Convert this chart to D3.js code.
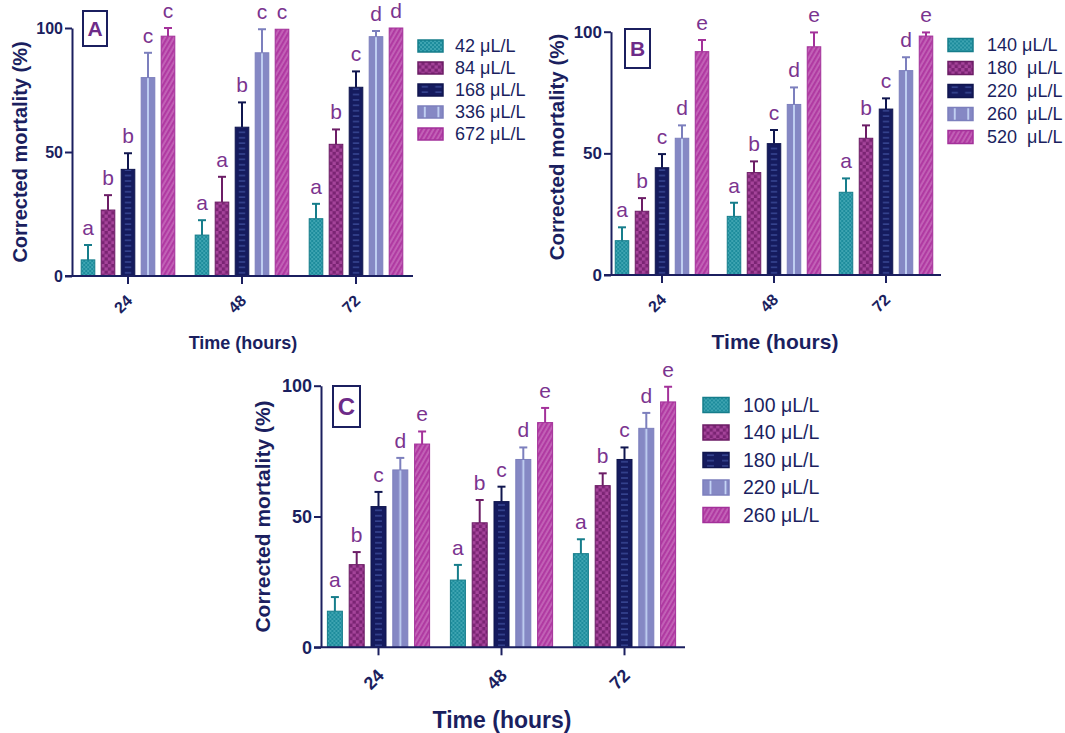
<!DOCTYPE html>
<html>
<head>
<meta charset="utf-8">
<script src="https://cdn.jsdelivr.net/npm/d3@7"></script>
<style>
  body { margin: 0; background: #fff; }
  svg { font-family: "Liberation Sans", Arial, sans-serif; }
</style>
</head>
<body>
<svg width="1065" height="733"></svg>
<script>
// ---- data ----
const times = ["24", "48", "72"];

const concA = ["42 μL/L", "84 μL/L", "168 μL/L", "336 μL/L", "672 μL/L"];
const concB = ["140 μL/L", "180  μL/L", "220  μL/L", "260  μL/L", "520  μL/L"];
const concC = ["100 μL/L", "140 μL/L", "180 μL/L", "220 μL/L", "260 μL/L"];

// one row per concentration, one value per time (24, 48, 72 h)
const meanA = [[6.5, 16.5, 23.1], [26.6, 29.8, 53.1], [43, 60, 76.1], [80, 90, 96.5], [96.7, 99.5, 100]];
const sdA   = [[6, 6, 6], [6, 10.2, 6], [6.5, 10, 6.4], [10, 9.5, 2.3], [3.3, 0, 0]];
const letA  = [["a", "a", "a"], ["b", "a", "b"], ["b", "b", "c"], ["c", "c", "d"], ["c", "c", "d"]];

const meanB = [[14.1, 24.1, 34], [26.2, 42.1, 56.2], [44.1, 54, 68.2], [56.2, 70.1, 84], [91.8, 93.8, 98.2]];
const sdB   = [[5.5, 5.6, 5.7], [5.4, 4.6, 5.3], [5.6, 5.6, 4.4], [5.3, 7, 5.5], [4.8, 5.9, 1.5]];
const letB  = [["a", "a", "a"], ["b", "b", "b"], ["c", "c", "c"], ["d", "d", "d"], ["e", "e", "e"]];

const meanC = [[13.8, 25.7, 35.8], [31.6, 47.6, 61.8], [53.8, 55.7, 71.8], [67.8, 71.8, 83.7], [77.7, 85.9, 93.8]];
const sdC   = [[5.4, 5.8, 5.5], [4.8, 8.7, 4.7], [5.6, 5.7, 4.6], [4.6, 4.6, 5.9], [4.8, 5.6, 5.8]];
const letC  = [["a", "a", "a"], ["b", "b", "b"], ["c", "c", "c"], ["d", "d", "d"], ["e", "e", "e"]];

const yTicks = [0, 50, 100];

// ---- styles ----
const navy = "#1b1f5f";
const letterCol = "#7b348f";
const series = [
  { base: "#1d8c9c", light: "#3ea4b1", stroke: "#167d8b" },  // teal, fine checks
  { base: "#7a2473", light: "#a5449a", stroke: "#6c1d66" },  // purple, checker
  { base: "#151b5e", light: "#4456a6", stroke: "#10164f" },  // navy, dashes
  { base: "#8588c4", light: "#c4d4f5", stroke: "#7c7fbd" },  // lavender, stripe
  { base: "#b03aa2", light: "#d080c6", stroke: "#a3319a" }   // magenta, hatch
];

const svg = d3.select("svg");
const defs = svg.append("defs");

function makePatterns(key, bw) {
  // teal
  let p = defs.append("pattern").attr("id", key + "p0").attr("patternUnits", "userSpaceOnUse")
    .attr("width", 4).attr("height", 4);
  p.append("rect").attr("width", 4).attr("height", 4).attr("fill", series[0].base);
  p.append("rect").attr("width", 2).attr("height", 2).attr("fill", series[0].light);
  p.append("rect").attr("x", 2).attr("y", 2).attr("width", 2).attr("height", 2).attr("fill", series[0].light);
  // purple
  p = defs.append("pattern").attr("id", key + "p1").attr("patternUnits", "userSpaceOnUse")
    .attr("width", 6.6).attr("height", 6.6);
  p.append("rect").attr("width", 6.6).attr("height", 6.6).attr("fill", series[1].base);
  p.append("rect").attr("width", 3.3).attr("height", 3.3).attr("fill", series[1].light);
  p.append("rect").attr("x", 3.3).attr("y", 3.3).attr("width", 3.3).attr("height", 3.3).attr("fill", series[1].light);
  // navy
  p = defs.append("pattern").attr("id", key + "p2").attr("patternUnits", "userSpaceOnUse")
    .attr("width", bw).attr("height", 5.4);
  p.append("rect").attr("width", bw).attr("height", 5.4).attr("fill", series[2].base);
  p.append("rect").attr("x", bw * 0.27).attr("y", 2.2).attr("width", bw * 0.46).attr("height", 1.1).attr("fill", series[2].light);
  // lavender
  p = defs.append("pattern").attr("id", key + "p3").attr("patternUnits", "userSpaceOnUse")
    .attr("width", bw).attr("height", 10);
  p.append("rect").attr("width", bw).attr("height", 10).attr("fill", series[3].base);
  p.append("rect").attr("x", bw / 2 - 0.9).attr("width", 1.8).attr("height", 10).attr("fill", series[3].light);
  // magenta
  p = defs.append("pattern").attr("id", key + "p4").attr("patternUnits", "userSpaceOnUse")
    .attr("width", 4).attr("height", 4).attr("patternTransform", "rotate(30)");
  p.append("rect").attr("width", 4).attr("height", 4).attr("fill", series[4].base);
  p.append("rect").attr("x", 1.5).attr("width", 1.1).attr("height", 4).attr("fill", series[4].light);
}

const panels = [
  { key: "A", conc: concA, mean: meanA, sd: sdA, lets: letA,
    axisX: 72, x1: 413, band: [71, 413], yRange: [276, 28], pitch: 20, bw: 13.6,
    yTickFont: 16, xTickFont: 16, xTickOff: [-5, 28],
    xTitle: [243, 343, 18], yTitle: [20, 152, 20],
    box: [83, 11, 24, 35, 21],
    legend: { x: 418, y: 46, dy: 22, w: 25, h: 12, tx: 455, size: 18 } },
  { key: "B", conc: concB, mean: meanB, sd: sdB, lets: letB,
    axisX: 611, x1: 941, band: [606, 942], yRange: [275, 31.7], pitch: 20, bw: 13.5,
    yTickFont: 17, xTickFont: 16, xTickOff: [-5, 28],
    xTitle: [775, 342, 21], yTitle: [557, 147, 20.5],
    box: [625, 29, 25, 39, 21],
    legend: { x: 948, y: 45, dy: 23, w: 25, h: 13, tx: 987, size: 18 } },
  { key: "C", conc: concC, mean: meanC, sd: sdC, lets: letC,
    axisX: 321, x1: 685, band: [317, 686], yRange: [647.3, 385.7], pitch: 21.8, bw: 15,
    yTickFont: 18, xTickFont: 18, xTickOff: [-5, 32],
    xTitle: [502, 720, 23], yTitle: [263, 516.5, 21],
    box: [333, 386, 27, 41, 24],
    legend: { x: 703, y: 405, dy: 27.5, w: 26, h: 15, tx: 743, size: 19.5 } }
];

panels.forEach(function(P) {
  makePatterns(P.key, P.bw);

  const x = d3.scaleBand().domain(times).range(P.band).padding(0);
  const xi = d3.scaleBand().domain(d3.range(5))
    .range([-P.pitch * 2.5, P.pitch * 2.5]).paddingInner(1 - P.bw / P.pitch).paddingOuter((1 - P.bw / P.pitch) / 2);
  const y = d3.scaleLinear().domain([0, 100]).range(P.yRange);

  const g = svg.append("g");

  // bars
  P.mean.forEach(function(row, s) {
    row.forEach(function(v, t) {
      const bx = x(times[t]) + x.bandwidth() / 2 + xi(s);
      const bar = g.append("g").attr("transform", "translate(" + bx + ",0)");
      bar.append("rect")
        .attr("x", 0).attr("y", y(v))
        .attr("width", xi.bandwidth()).attr("height", y(0) - y(v))
        .attr("fill", "url(#" + P.key + "p" + s + ")")
        .attr("stroke", series[s].stroke).attr("stroke-width", 1);

      const cx = xi.bandwidth() / 2;
      const top = y(v + P.sd[s][t]);
      if (P.sd[s][t] > 0) {
        bar.append("line").attr("x1", cx).attr("x2", cx).attr("y1", y(v)).attr("y2", top)
          .attr("stroke", series[s].stroke).attr("stroke-width", 2);
        bar.append("line").attr("x1", cx - 4).attr("x2", cx + 4).attr("y1", top).attr("y2", top)
          .attr("stroke", series[s].stroke).attr("stroke-width", 2);
      }
      bar.append("text")
        .attr("x", cx).attr("y", top - 10)
        .attr("text-anchor", "middle")
        .attr("font-size", 21).attr("fill", letterCol)
        .text(P.lets[s][t]);
    });
  });

  // y axis
  const ya = g.append("g").attr("transform", "translate(" + P.axisX + ",0)")
    .call(d3.axisLeft(y).tickValues(yTicks).tickSize(7).tickSizeOuter(0).tickPadding(2));
  ya.selectAll("path, line").attr("stroke", navy).attr("stroke-width", 2);
  ya.selectAll("text").attr("fill", navy).attr("font-size", P.yTickFont).attr("font-weight", "bold")
    .attr("font-family", "Liberation Sans, Arial, sans-serif");

  // x axis
  const xa = g.append("g").attr("transform", "translate(0," + y(0) + ")")
    .call(d3.axisBottom(x).tickSize(8).tickSizeOuter(0));
  xa.select(".domain").attr("d", "M" + (P.axisX - 7) + ",0H" + P.x1);
  xa.selectAll("path, line").attr("stroke", navy).attr("stroke-width", 2);
  xa.selectAll("text")
    .attr("y", 0).attr("dy", "0.35em")
    .attr("transform", "translate(" + P.xTickOff[0] + "," + P.xTickOff[1] + ") rotate(-45)")
    .attr("text-anchor", "middle")
    .attr("fill", navy).attr("font-size", P.xTickFont).attr("font-weight", "bold")
    .attr("font-family", "Liberation Sans, Arial, sans-serif");

  // titles
  g.append("text")
    .attr("x", P.xTitle[0]).attr("y", P.xTitle[1]).attr("dy", "0.35em")
    .attr("text-anchor", "middle").attr("font-size", P.xTitle[2]).attr("font-weight", "bold")
    .attr("fill", navy).text("Time (hours)");
  g.append("text")
    .attr("transform", "translate(" + P.yTitle[0] + "," + P.yTitle[1] + ") rotate(-90)")
    .attr("dy", "0.35em")
    .attr("text-anchor", "middle").attr("font-size", P.yTitle[2]).attr("font-weight", "bold")
    .attr("fill", navy).text("Corrected mortality (%)");

  // panel letter box
  g.append("rect")
    .attr("x", P.box[0]).attr("y", P.box[1]).attr("width", P.box[2]).attr("height", P.box[3])
    .attr("fill", "none").attr("stroke", navy).attr("stroke-width", 2);
  g.append("text")
    .attr("x", P.box[0] + P.box[2] / 2).attr("y", P.box[1] + P.box[3] / 2).attr("dy", "0.36em")
    .attr("text-anchor", "middle").attr("font-size", P.box[4]).attr("font-weight", "bold")
    .attr("fill", "#6d2b88").text(P.key);

  // legend
  const L = P.legend;
  P.conc.forEach(function(c, s) {
    const row = g.append("g").attr("transform", "translate(" + L.x + "," + (L.y + s * L.dy - L.h / 2) + ")");
    row.append("rect").attr("width", L.w).attr("height", L.h)
      .attr("fill", "url(#" + P.key + "p" + s + ")")
      .attr("stroke", series[s].stroke).attr("stroke-width", 1.5);
    row.append("text")
      .attr("x", L.tx - L.x).attr("y", L.h / 2).attr("dy", "0.35em")
      .attr("font-size", L.size).attr("fill", navy)
      .style("white-space", "pre")
      .text(c);
  });
});
</script>
</body>
</html>
